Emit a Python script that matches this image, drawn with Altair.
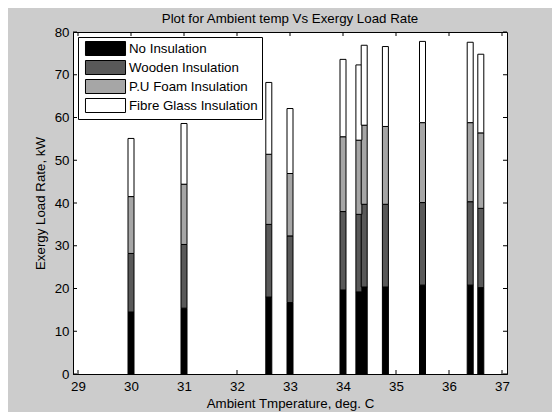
import altair as alt
import pandas as pd

temps = [30.0, 31.0, 32.6, 33.0, 34.0, 34.3, 34.4, 34.8, 35.5, 36.4, 36.6]
series_names = ["No Insulation", "Wooden Insulation", "P.U Foam Insulation", "Fibre Glass Insulation"]
no_ins = [14.5, 15.4, 18.0, 16.7, 19.65, 19.2, 20.35, 20.35, 20.8, 20.8, 20.2]
wooden = [13.7, 14.9, 17.0, 15.6, 18.35, 18.15, 19.35, 19.35, 19.3, 19.5, 18.55]
pu_foam = [13.3, 14.1, 16.4, 14.6, 17.5, 17.35, 18.5, 18.2, 18.7, 18.5, 17.65]
fibre = [13.6, 14.2, 16.8, 15.2, 18.1, 17.6, 18.7, 18.7, 19.0, 18.8, 18.4]
x_ticks = [29, 30, 31, 32, 33, 34, 35, 36, 37]
y_ticks = [0, 10, 20, 30, 40, 50, 60, 70, 80]
colors = ["#000000", "#595959", "#a6a6a6", "#ffffff"]

rows = []
for k, (name, vals) in enumerate(zip(series_names, [no_ins, wooden, pu_foam, fibre])):
    for t, v in zip(temps, vals):
        rows.append({"temp": t, "value": v, "series": name, "order": k})
df = pd.DataFrame(rows)

xs = alt.Scale(domain=[29, 37], nice=False, zero=False)
ys = alt.Scale(domain=[0, 80], nice=False)

W, H = 434, 342
FONT = "Liberation Sans"
FS = 13.3

bars = alt.Chart(df).mark_bar(size=6, stroke="black", strokeWidth=1).encode(
    x=alt.X("temp:Q", scale=xs,
            axis=alt.Axis(values=x_ticks, title="Ambient Tmperature, deg. C", format="d",
                          ticks=False, labelPadding=5, titlePadding=4, grid=False)),
    y=alt.Y("value:Q", stack="zero", scale=ys,
            axis=alt.Axis(values=y_ticks, title="Exergy Load Rate, kW",
                          ticks=False, labelPadding=4, titlePadding=7, grid=False)),
    color=alt.Color("series:N",
                    scale=alt.Scale(domain=series_names, range=colors),
                    legend=alt.Legend(title=None, orient="top-left", offset=5,
                                      symbolType="M-2.86,-1H2.86V1H-2.86Z",
                                      symbolSize=196, symbolStrokeColor="black",
                                      symbolStrokeWidth=1, symbolOffset=16,
                                      labelOffset=16, rowPadding=0, padding=4,
                                      strokeColor="black", fillColor="white",
                                      labelFont=FONT, labelFontSize=FS,
                                      labelColor="black", symbolOpacity=1)),
    order=alt.Order("order:Q", sort="ascending"),
)

xt = pd.DataFrame({"t": x_ticks})
yt = pd.DataFrame({"t": y_ticks})

xtick_bot = alt.Chart(xt).mark_rule(color="black").encode(
    x=alt.X("t:Q", scale=xs), y=alt.value(H), y2=alt.value(H - 4))
xtick_top = alt.Chart(xt).mark_rule(color="black").encode(
    x=alt.X("t:Q", scale=xs), y=alt.value(0), y2=alt.value(4))
ytick_left = alt.Chart(yt).mark_rule(color="black").encode(
    y=alt.Y("t:Q", scale=ys), x=alt.value(0), x2=alt.value(4))
ytick_right = alt.Chart(yt).mark_rule(color="black").encode(
    y=alt.Y("t:Q", scale=ys), x=alt.value(W), x2=alt.value(W - 4))

chart = alt.layer(bars, xtick_bot, xtick_top, ytick_left, ytick_right).properties(
    width=W, height=H,
    title=alt.TitleParams("Plot for Ambient temp Vs Exergy Load Rate", fontSize=FS,
                          fontWeight="normal", font=FONT, color="black", offset=0,
                          frame="group"),
    autosize=alt.AutoSizeParams(type="none"),
    padding={"left": 65, "top": 24, "right": 45, "bottom": 38},
    background="#cccccc",
).configure_view(
    fill="white", stroke="black", strokeWidth=1
).configure_axis(
    labelFont=FONT, labelFontSize=FS, labelColor="black",
    titleFont=FONT, titleFontSize=FS, titleColor="black", titleFontWeight="normal",
    domainColor="black", domainWidth=1
)

chart.save("out.html", embed_options={"renderer": "svg", "actions": False})
